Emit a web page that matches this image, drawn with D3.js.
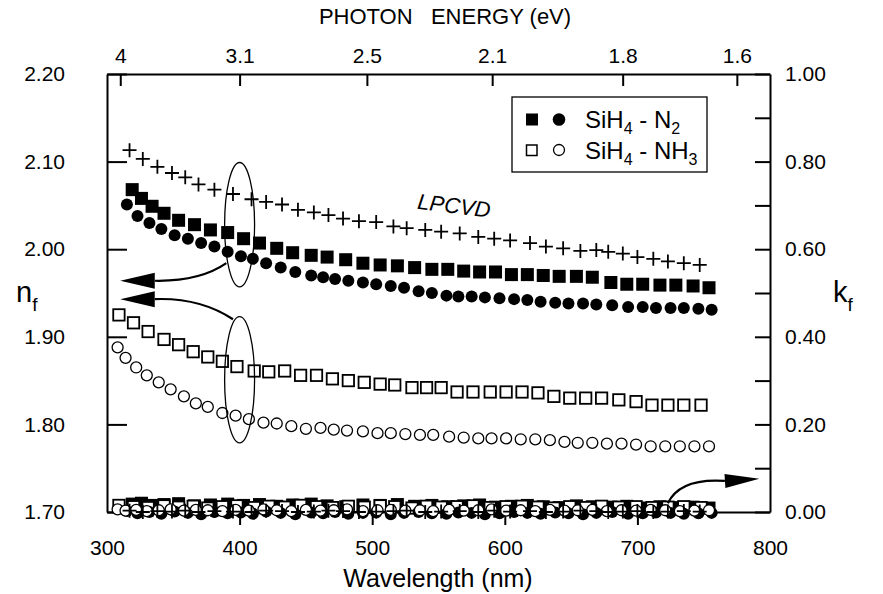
<!DOCTYPE html>
<html><head><meta charset="utf-8">
<script src="https://cdn.jsdelivr.net/npm/d3@7"></script>
<style>
body{margin:0;background:#fff;}
svg{display:block;font-family:"Liberation Sans",Arial,Helvetica,sans-serif;}
</style></head><body>
<svg id="chart" width="883" height="594"></svg>
<script>
// ---------------- DATA ----------------
const xTicks = [300, 400, 500, 600, 700, 800];
const nTicks = [1.70, 1.80, 1.90, 2.00, 2.10, 2.20];
const kTicks = [0, 0.1, 0.2, 0.3, 0.4, 0.5, 0.6, 0.7, 0.8, 0.9, 1.0];
const kLabels = [0, 0.2, 0.4, 0.6, 0.8, 1.0];
const energyTicks = [4, 3.1, 2.5, 2.1, 1.8, 1.6];
const energyLabels = ["4", "3.1", "2.5", "2.1", "1.8", "1.6"];

// SiH4 - N2, filled squares (n)
const wlSqN2 = [319,326,334,343,354,366,378,391,403,415,428,440,454,466,480,493,506,519,532,545,557,569,581,593,605,617,629,641,654,666,680,692,704,717,729,742,754];
const nSqN2 = [2.068,2.058,2.049,2.041,2.033,2.028,2.022,2.019,2.012,2.007,2.001,1.996,1.993,1.991,1.988,1.984,1.982,1.981,1.979,1.977,1.977,1.975,1.974,1.974,1.971,1.971,1.970,1.969,1.969,1.968,1.962,1.960,1.960,1.959,1.959,1.958,1.956];
const kSqN2 = [0.018,0.020,0.015,0.017,0.019,0.014,0.016,0.018,0.015,0.017,0.013,0.016,0.018,0.014,0.012,0.016,0.015,0.017,0.013,0.015,0.012,0.014,0.016,0.011,0.013,0.015,0.012,0.010,0.014,0.012,0.011,0.013,0.009,0.012,0.010,0.011,0.009];

// SiH4 - N2, filled circles (n)
const wlCiN2 = [315,323,332,341,351,361,371,381,391,401,410,420,431,442,454,463,472,482,493,503,514,524,535,545,556,565,575,585,596,607,617,627,638,648,659,669,681,693,704,714,725,735,746,756];
const nCiN2 = [2.051,2.038,2.030,2.023,2.016,2.012,2.007,2.003,1.997,1.992,1.989,1.984,1.979,1.974,1.970,1.968,1.966,1.964,1.962,1.960,1.958,1.956,1.952,1.950,1.947,1.946,1.946,1.945,1.944,1.943,1.942,1.940,1.939,1.938,1.938,1.937,1.936,1.934,1.934,1.933,1.933,1.933,1.932,1.931];
const kCiN2 = [0.002,-0.003,0.000,-0.004,0.001,-0.002,-0.005,0.000,-0.003,-0.001,-0.004,0.001,-0.002,-0.005,-0.001,-0.003,0.000,-0.004,-0.002,-0.001,-0.005,-0.002,0.000,-0.003,-0.004,-0.001,-0.002,-0.005,-0.003,0.000,-0.002,-0.004,-0.001,-0.003,-0.005,-0.002,0.000,-0.004,-0.003,-0.001,-0.002,-0.004,-0.003,-0.002];

// LPCVD, plus
const wlLP = [317,327,338,349,359,369,381,395,409,420,432,444,456,467,478,490,503,516,526,540,552,566,580,592,604,619,631,644,657,669,678,689,700,712,723,735,747];
const nLP = [2.113,2.103,2.094,2.087,2.082,2.074,2.068,2.063,2.057,2.054,2.051,2.045,2.042,2.039,2.035,2.032,2.031,2.026,2.024,2.022,2.020,2.018,2.014,2.012,2.010,2.007,2.003,2.001,1.998,1.999,1.997,1.995,1.991,1.989,1.986,1.984,1.982];
const kLP = [0.003,0.000,0.002,0.001,0.003,0.000,0.002,0.001,0.000,0.003,0.002,0.000,0.001,0.003,0.002,0.000,0.001,0.002,0.003,0.000,0.001,0.002,0.000,0.003,0.001,0.002,0.000,0.001,0.003,0.002,0.000,0.001,0.002,0.000,0.001,0.002,0.001];

// SiH4 - NH3, open squares
const wlSqNH3 = [309,320,331,343,354,365,376,387,398,411,422,434,446,458,470,482,494,506,517,530,541,552,564,576,589,601,613,625,637,649,661,673,686,699,711,723,735,748];
const nSqNH3 = [1.925,1.916,1.906,1.897,1.891,1.883,1.877,1.872,1.866,1.861,1.860,1.861,1.856,1.856,1.852,1.850,1.848,1.846,1.845,1.842,1.842,1.842,1.837,1.837,1.837,1.837,1.837,1.836,1.832,1.830,1.830,1.830,1.828,1.826,1.822,1.822,1.822,1.822];
const kSqNH3 = [0.015,0.012,0.010,0.014,0.011,0.013,0.009,0.012,0.014,0.010,0.013,0.011,0.015,0.012,0.010,0.013,0.011,0.014,0.012,0.009,0.013,0.011,0.012,0.014,0.010,0.012,0.013,0.011,0.009,0.012,0.010,0.013,0.011,0.012,0.010,0.011,0.012,0.010];

// SiH4 - NH3, open circles
const wlCiNH3 = [308,314,322,330,339,348,358,367,376,387,397,407,418,428,439,450,461,471,481,493,504,514,525,536,546,558,569,580,590,601,612,623,634,645,655,666,677,688,699,710,721,732,743,754];
const nCiNH3 = [1.888,1.876,1.865,1.856,1.848,1.840,1.832,1.824,1.820,1.813,1.810,1.806,1.802,1.801,1.798,1.795,1.796,1.794,1.793,1.792,1.790,1.790,1.789,1.788,1.788,1.786,1.785,1.784,1.784,1.784,1.783,1.783,1.782,1.780,1.779,1.779,1.778,1.778,1.777,1.775,1.775,1.775,1.775,1.775];
const kCiNH3 = [0.006,0.003,0.005,0.002,0.004,0.006,0.003,0.005,0.004,0.002,0.005,0.003,0.006,0.004,0.002,0.005,0.003,0.004,0.006,0.002,0.004,0.005,0.003,0.004,0.002,0.005,0.003,0.004,0.006,0.003,0.004,0.002,0.005,0.003,0.004,0.005,0.002,0.004,0.003,0.005,0.004,0.002,0.003,0.004];

// ---------------- CHART ----------------
const svg = d3.select("#chart");
const L = 107, R = 770, T = 74, B = 512;
const x = d3.scaleLinear().domain([300, 800]).range([L, R]);
const yN = d3.scaleLinear().domain([1.70, 2.20]).range([B, T]);
const yK = d3.scaleLinear().domain([0, 1]).range([B, T]);
const zip = (a, b) => a.map((v, i) => [v, b[i]]);

// axes
function styleAxis(g) {
  g.select(".domain").attr("stroke", "#000").attr("stroke-width", 2);
  g.selectAll(".tick line").attr("stroke", "#000").attr("stroke-width", 2);
  g.selectAll(".tick text").attr("fill", "#000").attr("font-size", 21)
    .attr("font-family", "'Liberation Sans', Arial, sans-serif");
}
const gB = svg.append("g").attr("transform", `translate(0,${B})`)
  .call(d3.axisBottom(x).tickValues(xTicks).tickSize(13).tickSizeOuter(0).tickPadding(15).tickFormat(d3.format("d")));
styleAxis(gB);
gB.selectAll(".tick").filter(d => d === 300 || d === 800).select("line").remove();

const gT = svg.append("g").attr("transform", `translate(0,${T})`)
  .call(d3.axisTop(x).tickValues(energyTicks.map(e => 1240 / e)).tickSize(-12).tickSizeOuter(0).tickPadding(11)
    .tickFormat((d, i) => energyLabels[i]));
styleAxis(gT);

const gL = svg.append("g").attr("transform", `translate(${L},0)`)
  .call(d3.axisLeft(yN).tickValues(nTicks).tickSize(-20).tickSizeOuter(0).tickPadding(42).tickFormat(d3.format(".2f")));
styleAxis(gL);

const gR = svg.append("g").attr("transform", `translate(${R},0)`)
  .call(d3.axisRight(yK).tickValues(kTicks).tickSize(-15).tickSizeOuter(0).tickPadding(15)
    .tickFormat(d => kLabels.some(v => Math.abs(v - d) < 1e-9) ? d3.format(".2f")(d) : ""));
styleAxis(gR);

// axis titles
svg.append("text").attr("x", 445).attr("y", 24).attr("text-anchor", "middle")
  .attr("font-size", 22).style("white-space", "pre").text("PHOTON   ENERGY (eV)");
svg.append("text").attr("x", 438).attr("y", 587).attr("text-anchor", "middle")
  .attr("font-size", 25).text("Wavelength (nm)");
const nt = svg.append("text").attr("x", 16).attr("y", 302).attr("font-size", 29);
nt.append("tspan").text("n");
nt.append("tspan").attr("font-size", 19).attr("dy", 9).text("f");
const kt = svg.append("text").attr("x", 833).attr("y", 302).attr("font-size", 29);
kt.append("tspan").text("k");
kt.append("tspan").attr("font-size", 19).attr("dy", 9).text("f");

// marker drawers
const plot = svg.append("g");
function filledSquares(pts, yS) {
  plot.append("g").selectAll("rect").data(pts).join("rect")
    .attr("x", d => x(d[0]) - 6.5).attr("y", d => yS(d[1]) - 6.5)
    .attr("width", 13).attr("height", 13).attr("fill", "#000");
}
function openSquares(pts, yS) {
  plot.append("g").selectAll("rect").data(pts).join("rect")
    .attr("x", d => x(d[0]) - 5.7).attr("y", d => yS(d[1]) - 5.7)
    .attr("width", 11.4).attr("height", 11.4).attr("fill", "#fff").attr("stroke", "#000").attr("stroke-width", 1.8);
}
function filledCircles(pts, yS) {
  plot.append("g").selectAll("circle").data(pts).join("circle")
    .attr("cx", d => x(d[0])).attr("cy", d => yS(d[1])).attr("r", 6).attr("fill", "#000");
}
function openCircles(pts, yS) {
  plot.append("g").selectAll("circle").data(pts).join("circle")
    .attr("cx", d => x(d[0])).attr("cy", d => yS(d[1])).attr("r", 5.5)
    .attr("fill", "#fff").attr("stroke", "#000").attr("stroke-width", 1.3);
}
function pluses(pts, yS) {
  plot.append("g").selectAll("path").data(pts).join("path")
    .attr("d", d => { const cx = x(d[0]), cy = yS(d[1]); return `M${cx-7},${cy}H${cx+7}M${cx},${cy-7}V${cy+7}`; })
    .attr("stroke", "#000").attr("stroke-width", 1.8).attr("fill", "none");
}

// n data
filledSquares(zip(wlSqN2, nSqN2), yN);
filledCircles(zip(wlCiN2, nCiN2), yN);
pluses(zip(wlLP, nLP), yN);
openSquares(zip(wlSqNH3, nSqNH3), yN);
openCircles(zip(wlCiNH3, nCiNH3), yN);
// k data
filledSquares(zip(wlSqN2, kSqN2), yK);
openSquares(zip(wlSqNH3, kSqNH3), yK);
filledCircles(zip(wlCiN2, kCiN2), yK);
openCircles(zip(wlCiNH3, kCiNH3), yK);
pluses(zip(wlLP, kLP), yK);

// annotations: ellipses and arrows (placed in data coordinates)
const ann = svg.append("g").attr("fill", "none").attr("stroke", "#000");
function ellipse(wl, n, dWl, dN) {
  ann.append("ellipse").attr("cx", x(wl)).attr("cy", yN(n))
    .attr("rx", x(wl + dWl) - x(wl)).attr("ry", yN(n) - yN(n + dN)).attr("stroke-width", 1.3);
}
ellipse(400, 2.028, 11.3, 0.071);
ellipse(400, 1.851, 11.3, 0.072);

function arrow(p0, c, p1, tip, yS, hw) {
  const P = p => [x(p[0]), yS(p[1])];
  const a = P(p0), b = P(c), e = P(p1), t = P(tip);
  ann.append("path").attr("d", `M${a[0]},${a[1]}Q${b[0]},${b[1]} ${e[0]},${e[1]}`).attr("stroke-width", 2.2);
  const dx = t[0] - e[0], dy = t[1] - e[1], len = Math.hypot(dx, dy);
  const nx = -dy / len * hw, ny = dx / len * hw;
  svg.append("path").attr("d", `M${t[0]},${t[1]}L${e[0]+nx},${e[1]+ny}L${e[0]-nx},${e[1]-ny}Z`).attr("fill", "#000");
}
arrow([390, 1.984], [370, 1.963], [336, 1.964], [310, 1.964], yN, 8);
arrow([395, 1.920], [370, 1.945], [336, 1.943], [310, 1.943], yN, 8);
arrow([723, 0.02], [732, 0.078], [766, 0.071], [792, 0.076], yK, 7);

// LPCVD label
svg.append("text").attr("transform", `translate(${x(561)},${yN(2.041)}) rotate(7)`)
  .attr("text-anchor", "middle").attr("font-size", 22).attr("font-style", "italic").text("LPCVD");

// legend
const lg = svg.append("g");
lg.append("rect").attr("x", 512).attr("y", 97).attr("width", 195).attr("height", 75)
  .attr("fill", "#fff").attr("stroke", "#000").attr("stroke-width", 1.3);
lg.append("rect").attr("x", 526).attr("y", 113.5).attr("width", 12).attr("height", 12).attr("fill", "#000");
lg.append("circle").attr("cx", 559).attr("cy", 119.5).attr("r", 6.3).attr("fill", "#000");
lg.append("rect").attr("x", 526.5).attr("y", 145).attr("width", 10.5).attr("height", 10.5)
  .attr("fill", "#fff").attr("stroke", "#000").attr("stroke-width", 1.5);
lg.append("circle").attr("cx", 559).attr("cy", 150).attr("r", 5.5).attr("fill", "#fff").attr("stroke", "#000").attr("stroke-width", 1.3);
function legendText(yb, parts) {
  const t = lg.append("text").attr("x", 585).attr("y", yb).attr("font-size", 24);
  parts.forEach(p => {
    const s = t.append("tspan").text(p[0]);
    if (p[1] === "sub") s.attr("font-size", 16).attr("dy", 6);
    if (p[1] === "up") s.attr("dy", -6);
  });
}
legendText(128, [["SiH"], ["4", "sub"], [" - N", "up"], ["2", "sub"]]);
legendText(159, [["SiH"], ["4", "sub"], [" - NH", "up"], ["3", "sub"]]);
</script>
</body></html>
